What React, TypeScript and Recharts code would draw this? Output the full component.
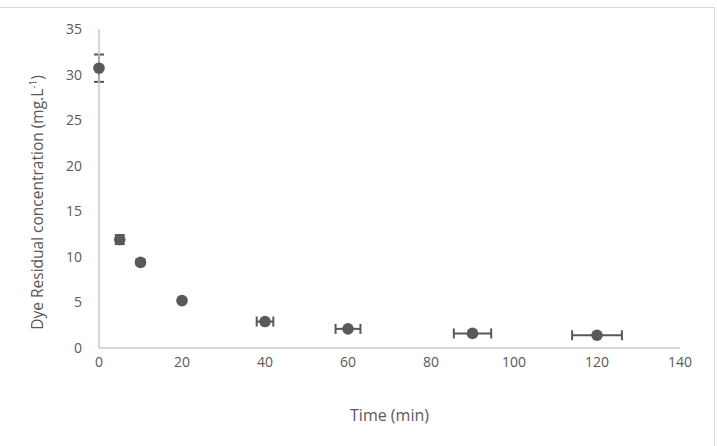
import React from "react";
import { ScatterChart, Scatter, XAxis, YAxis, ErrorBar } from "recharts";

const times = [0, 5, 10, 20, 40, 60, 90, 120];
const concentrations = [30.7, 11.9, 9.4, 5.2, 2.9, 2.1, 1.6, 1.4];
const concErrors = [1.5, 0.5, 0.3, 0.2, 0.2, 0.1, 0.1, 0.1];
const timeErrors = [0, 0, 0, 0, 2, 3, 4.5, 6];
const xTicks = [0, 20, 40, 60, 80, 100, 120, 140];
const yTicks = [0, 5, 10, 15, 20, 25, 30, 35];

const data = times.map((t, i) => ({
  t,
  c: concentrations[i],
  ce: concErrors[i],
  te: timeErrors[i],
}));

const GRAY = "#595959";
const FONT = "'Open Sans', sans-serif";

const Dot = (props: any) => (
  <circle cx={props.cx} cy={props.cy} r={5.8} fill={GRAY} />
);

const YLabel = (props: any) => {
  const vb = props.viewBox || {};
  const cx = vb.x + 4;
  const cy = vb.y + vb.height / 2 + 14;
  return (
    <text
      x={cx}
      y={cy}
      transform={`rotate(-90, ${cx}, ${cy})`}
      textAnchor="middle"
      fill={GRAY}
      fontSize={15.5}
      fontFamily={FONT}
    >
      Dye Residual concentration (mg.L
      <tspan dy={-6} fontSize={10}>-1</tspan>
      <tspan dy={6}>)</tspan>
    </text>
  );
};

const XLabel = (props: any) => {
  const vb = props.viewBox || {};
  const cx = vb.x + vb.width / 2;
  const cy = vb.y + 73;
  return (
    <text
      x={cx}
      y={cy}
      textAnchor="middle"
      fill={GRAY}
      fontSize={16}
      fontFamily={FONT}
    >
      Time (min)
    </text>
  );
};

export default function App() {
  return (
    <div style={{ position: "absolute", left: 0, top: 0, width: 717, height: 446, background: "#fff" }}>
      <div style={{ position: "absolute", left: 0, top: 7, width: 715, height: 1, background: "#D9D9D9" }} />
      <div style={{ position: "absolute", left: 714, top: 7, width: 1, height: 439, background: "#D9D9D9" }} />
      <ScatterChart
        width={717}
        height={446}
        margin={{ top: 29, right: 37, bottom: 38, left: 39 }}
        style={{ position: "absolute", left: 0, top: 0 }}
      >
        <XAxis
          type="number"
          dataKey="t"
          domain={[0, 140]}
          ticks={xTicks}
          interval={0}
          height={60}
          axisLine={{ stroke: "#C8C8C8", strokeWidth: 1.5 }}
          tickLine={false}
          tickSize={0}
          tickMargin={9}
          tick={{ fill: GRAY, fontSize: 14, fontFamily: FONT }}
          label={<XLabel />}
        />
        <YAxis
          type="number"
          dataKey="c"
          domain={[0, 35]}
          ticks={yTicks}
          interval={0}
          width={60}
          axisLine={{ stroke: "#C8C8C8", strokeWidth: 1.5 }}
          tickLine={false}
          tickSize={0}
          tickMargin={17}
          tick={{ fill: GRAY, fontSize: 14, fontFamily: FONT }}
          label={<YLabel />}
        />
        <Scatter data={data} shape={<Dot />} isAnimationActive={false}>
          <ErrorBar dataKey="ce" direction="y" width={5} stroke={GRAY} strokeWidth={2} />
          <ErrorBar dataKey="te" direction="x" width={5} stroke={GRAY} strokeWidth={2} />
        </Scatter>
      </ScatterChart>
    </div>
  );
}
